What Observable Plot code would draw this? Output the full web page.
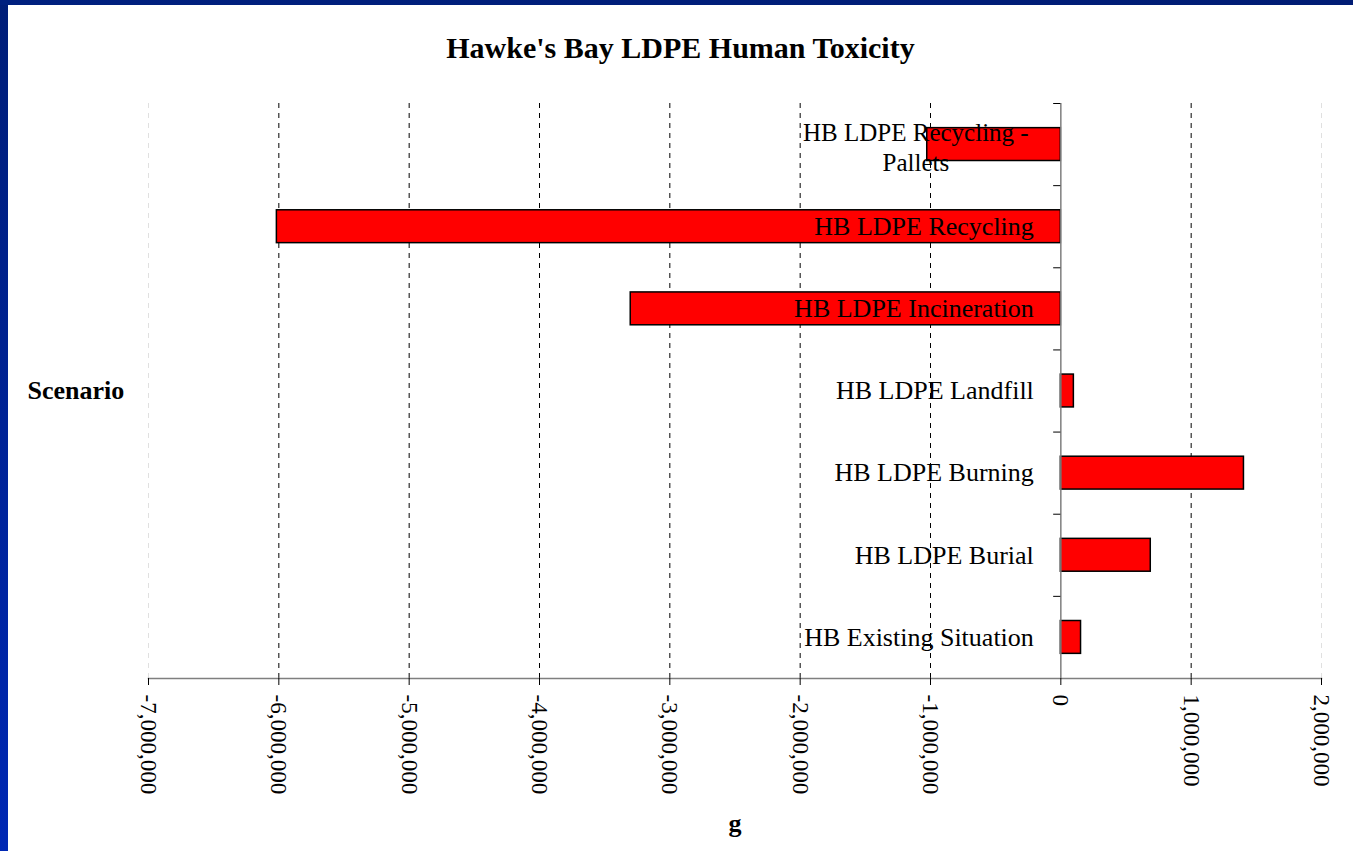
<!DOCTYPE html>
<html>
<head>
<meta charset="utf-8">
<script src="https://cdn.jsdelivr.net/npm/d3@7"></script>
<script src="https://cdn.jsdelivr.net/npm/@observablehq/plot@0.6"></script>
<style>
  html, body { margin: 0; padding: 0; background: #0026a0; }
  #page {
    position: relative; width: 1353px; height: 851px; overflow: hidden;
    background: linear-gradient(to bottom, #001e78, #0028b4);
  }
  #panel {
    position: absolute; left: 8px; top: 5px; width: 1345px; height: 846px;
    background: #ffffff;
  }
  #topbar {
    position: absolute; left: 0; top: 0; width: 1353px; height: 5px;
    background: linear-gradient(to right, #00207f, #001c74);
  }
  #title {
    position: absolute; left: 0; top: 27px; width: 1345px; text-align: center;
    font-family: "Liberation Serif", "Times New Roman", serif; font-weight: bold;
    font-size: 30px; line-height: 32px; color: #000;
  }
  #chart { position: absolute; left: 0; top: 75px; }
</style>
</head>
<body>
<div id="page">
  <div id="topbar"></div>
  <div id="panel">
    <div id="title">Hawke's Bay LDPE Human Toxicity</div>
    <div id="chart"></div>
  </div>
</div>
<script>
// Categories, top to bottom as drawn
const scenarios = [
  "HB LDPE Recycling -\nPallets",
  "HB LDPE Recycling",
  "HB LDPE Incineration",
  "HB LDPE Landfill",
  "HB LDPE Burning",
  "HB LDPE Burial",
  "HB Existing Situation"
];
// Human toxicity (g)
const values = [-1025000, -6015000, -3300000, 100000, 1405000, 690000, 155000];
// x-axis ticks
const xTicks = [-7000000, -6000000, -5000000, -4000000, -3000000, -2000000, -1000000, 0, 1000000, 2000000];

const data = scenarios.map((s, i) => ({label: s, value: values[i], i}));
const bounds = d3.range(scenarios.length + 1).map(k => k - 0.5);
const xMin = xTicks[0], xMax = xTicks[xTicks.length - 1];

const chart = Plot.plot({
  width: 1345,
  height: 771,
  marginLeft: 140,
  marginRight: 32,
  marginTop: 23,
  marginBottom: 173,
  style: {fontFamily: "Liberation Serif, Times New Roman, serif", background: "white", color: "black"},
  x: {domain: [xMin, xMax], ticks: xTicks},
  y: {domain: [-0.5, scenarios.length - 0.5], reverse: true, axis: null},
  marks: [
    Plot.ruleX(xTicks.filter(t => t !== 0), {
      x: d => d,
      stroke: d => (d === xMin || d === xMax) ? "#e0e0e0" : "#000",
      strokeDasharray: "5,5",
      strokeWidth: 1
    }),
    Plot.rectX(data, {
      x1: 0, x2: "value",
      y1: d => d.i - 0.2, y2: d => d.i + 0.2,
      fill: "#ff0000", stroke: "#000", strokeWidth: 1.5
    }),
    Plot.ruleX([0], {stroke: "#7f7f7f", strokeWidth: 1.5}),
    Plot.ruleY(bounds, {y: d => d, x1: -55000, x2: 0, stroke: "#000", strokeWidth: 1}),
    Plot.frame({anchor: "bottom", stroke: "#7f7f7f", strokeWidth: 1.5}),
    Plot.axisX({
      ticks: xTicks,
      tickRotate: 90,
      tickSize: 7,
      tickPadding: 9,
      fontSize: 23,
      tickFormat: d => d.toLocaleString("en-US"),
      label: null
    }),
    Plot.text(data.filter(d => !d.label.includes("\n")), {
      x: 0, y: "i", text: "label",
      textAnchor: "end", dx: -27,
      fontSize: 26, fill: "#000"
    }),
    Plot.text(data.filter(d => d.label.includes("\n")), {
      x: 0, y: "i", text: "label",
      textAnchor: "middle", dx: -145, dy: 2, lineHeight: 1.2,
      fontSize: 25, fill: "#000"
    }),
    Plot.text(["Scenario"], {
      frameAnchor: "left", dx: -121, textAnchor: "start",
      fontSize: 26, fontWeight: "bold", fill: "#000"
    }),
    Plot.text(["g"], {
      frameAnchor: "bottom", dy: 145, lineAnchor: "middle",
      fontSize: 26, fontWeight: "bold", fill: "#000"
    })
  ]
});
document.getElementById("chart").appendChild(chart);
</script>
</body>
</html>
